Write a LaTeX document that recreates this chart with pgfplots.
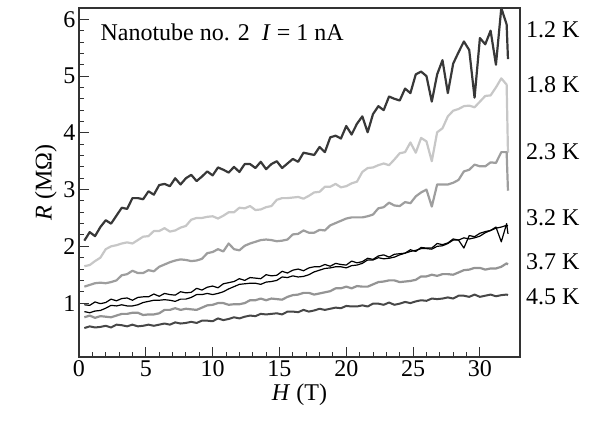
\documentclass[border=0pt]{standalone}
\usepackage{pgfplots}
\pgfplotsset{compat=1.18}
\usepackage{pgfplotstable}
\usepackage{fontspec}
\setmainfont{Liberation Serif}

% R (MOhm) vs H (T), one column per temperature; 3.2 K has two sweeps
\pgfplotstableread{
H    c12  c18  c23  c32a c32b c37  c45
0.4  2.10 1.65 1.29 0.97 0.85 0.75 0.56
0.8  2.25 1.67 1.32 0.96 0.83 0.78 0.59
1.2  2.18 1.74 1.35 1.02 0.86 0.74 0.57
1.6  2.34 1.80 1.36 0.99 0.87 0.77 0.58
2.0  2.46 1.95 1.35 1.01 0.91 0.76 0.60
2.4  2.40 2.00 1.37 1.07 0.96 0.75 0.57
2.8  2.54 2.02 1.40 1.04 0.95 0.78 0.62
3.2  2.68 2.05 1.49 1.08 0.97 0.81 0.61
3.6  2.66 2.07 1.51 1.09 0.95 0.81 0.59
4.0  2.85 2.05 1.57 1.05 0.95 0.83 0.62
4.4  2.85 2.11 1.53 1.10 0.97 0.83 0.59
4.8  2.83 2.17 1.53 1.11 1.01 0.79 0.60
5.2  2.97 2.18 1.58 1.11 1.03 0.80 0.62
5.6  2.91 2.27 1.56 1.16 1.05 0.80 0.60
6.0  3.08 2.27 1.64 1.12 1.05 0.82 0.62
6.4  3.10 2.32 1.68 1.17 1.06 0.88 0.64
6.8  3.06 2.26 1.72 1.15 1.05 0.88 0.62
7.2  3.20 2.28 1.75 1.14 1.03 0.91 0.66
7.6  3.09 2.33 1.77 1.20 1.07 0.88 0.64
8.0  3.20 2.36 1.76 1.18 1.07 0.90 0.65
8.4  3.26 2.47 1.74 1.19 1.10 0.89 0.67
8.8  3.15 2.50 1.75 1.26 1.15 0.88 0.65
9.2  3.23 2.50 1.78 1.23 1.15 0.92 0.69
9.6  3.32 2.52 1.88 1.28 1.17 0.96 0.69
10.0 3.25 2.53 1.90 1.30 1.15 0.97 0.68
10.4 3.39 2.49 1.95 1.27 1.17 1.00 0.73
10.8 3.35 2.54 1.91 1.34 1.20 1.00 0.70
11.2 3.30 2.60 2.05 1.36 1.25 0.97 0.72
11.6 3.40 2.60 1.95 1.38 1.29 0.98 0.75
12.0 3.31 2.68 1.93 1.43 1.33 0.98 0.73
12.4 3.45 2.67 2.01 1.40 1.34 1.00 0.76
12.8 3.45 2.71 2.05 1.45 1.35 1.05 0.78
13.2 3.38 2.64 2.08 1.44 1.35 1.05 0.77
13.6 3.49 2.65 2.11 1.43 1.33 1.08 0.81
14.0 3.36 2.69 2.12 1.50 1.37 1.05 0.80
14.4 3.45 2.71 2.11 1.48 1.38 1.08 0.81
14.8 3.50 2.82 2.09 1.49 1.40 1.07 0.82
15.2 3.38 2.85 2.10 1.56 1.46 1.06 0.80
15.6 3.46 2.85 2.12 1.53 1.45 1.11 0.85
16.0 3.54 2.86 2.21 1.58 1.48 1.14 0.85
16.4 3.49 2.87 2.22 1.60 1.46 1.15 0.84
16.8 3.65 2.84 2.28 1.57 1.47 1.18 0.88
17.2 3.63 2.89 2.24 1.62 1.50 1.18 0.85
17.6 3.61 2.95 2.24 1.64 1.55 1.15 0.87
18.0 3.75 2.96 2.29 1.64 1.58 1.17 0.90
18.4 3.66 3.05 2.28 1.68 1.61 1.19 0.88
18.8 3.92 3.05 2.37 1.65 1.62 1.21 0.90
19.2 3.95 3.10 2.41 1.70 1.64 1.26 0.92
19.6 3.90 3.04 2.45 1.68 1.64 1.26 0.91
20.0 4.12 3.06 2.49 1.67 1.62 1.29 0.95
20.4 3.97 3.11 2.51 1.74 1.66 1.26 0.94
20.8 4.16 3.14 2.51 1.71 1.67 1.30 0.94
21.2 4.29 3.31 2.51 1.73 1.70 1.29 0.96
21.6 4.01 3.38 2.53 1.79 1.76 1.29 0.94
22.0 4.33 3.39 2.56 1.77 1.76 1.33 0.99
22.4 4.47 3.43 2.67 1.83 1.80 1.37 0.99
22.8 4.40 3.46 2.69 1.85 1.78 1.38 0.97
23.2 4.64 3.43 2.77 1.81 1.79 1.40 1.01
23.6 4.60 3.53 2.72 1.86 1.81 1.40 0.97
24.0 4.57 3.64 2.71 1.87 1.85 1.37 0.99
24.4 4.78 3.66 2.78 1.88 1.88 1.38 1.02
24.8 4.70 3.83 2.76 1.94 1.91 1.39 1.00
25.2 5.03 3.65 2.88 1.91 1.93 1.41 1.03
25.6 5.08 3.91 2.95 1.98 1.96 1.47 1.05
26.0 5.00 3.85 3.00 1.97 1.96 1.47 1.04
26.4 4.55 3.50 2.70 1.97 1.95 1.50 1.08
26.8 5.03 4.01 3.09 2.05 2.00 1.48 1.07
27.2 5.28 4.08 3.09 2.03 2.01 1.51 1.08
27.6 4.70 4.29 3.09 2.06 2.05 1.51 1.10
28.0 5.22 4.39 3.12 2.13 2.11 1.50 1.08
28.4 5.42 4.42 3.17 2.11 2.11 1.54 1.13
28.8 5.61 4.47 3.32 1.97 2.15 1.58 1.13
29.2 5.46 4.48 3.35 2.19 2.13 1.59 1.11
29.6 4.62 4.45 3.44 2.17 2.15 1.62 1.15
30.0 5.67 4.55 3.41 2.23 2.18 1.62 1.11
30.4 5.56 4.65 3.41 2.26 2.24 1.59 1.13
30.8 5.80 4.66 3.48 2.28 2.28 1.61 1.15
31.2 5.20 4.80 3.47 2.34 2.32 1.61 1.12
31.6 6.20 4.96 3.66 2.08 2.34 1.64 1.14
32.0 5.91 4.85 3.66 2.40 2.37 1.70 1.15
32.1 5.30 3.65 2.98 2.22 2.36 1.68 1.14
}\rdata

\begin{document}
\begin{tikzpicture}
\begin{axis}[
    scale only axis, width=441bp, height=349bp,
    xmin=0, xmax=33, ymin=0.05, ymax=6.2,
    xtick={0,5,...,30}, ytick={1,...,6},
    minor x tick num=4, minor y tick num=4,
    tick align=inside, xtick pos=bottom, ytick pos=left,
    major tick length=10bp, minor tick length=5bp,
    axis line style={draw=black!80, line width=1.2bp},
    tick style={black!80, line width=1bp},
    font=\fontsize{24bp}{28bp}\selectfont,
    /pgf/number format/assume math mode=true,
    xlabel={\textit{H} (T)}, ylabel={\textit{R} (MΩ)},
    clip=false,
    every axis plot/.append style={line join=round, no markers}]
\addplot[color=black!22, line width=2.2bp] table[x=H, y=c18] {\rdata};
\addplot[color=black!38, line width=2.2bp] table[x=H, y=c23] {\rdata};
\addplot[color=black!42, line width=2.2bp] table[x=H, y=c37] {\rdata};
\addplot[color=black!72, line width=2bp] table[x=H, y=c45] {\rdata};
\addplot[color=black, line width=1.2bp] table[x=H, y=c32a] {\rdata};
\addplot[color=black, line width=1.2bp] table[x=H, y=c32b] {\rdata};
\addplot[color=black!78, line width=2.2bp] table[x=H, y=c12] {\rdata};
\node[anchor=west, inner sep=0] at (axis cs:1.6,5.77) {Nanotube no. 2\ \ \textit{I} = 1 nA};
\node[anchor=west, inner sep=0, xshift=6bp] at (axis cs:33,5.82) {1.2 K};
\node[anchor=west, inner sep=0, xshift=6bp] at (axis cs:33,4.85) {1.8 K};
\node[anchor=west, inner sep=0, xshift=6bp] at (axis cs:33,3.67) {2.3 K};
\node[anchor=west, inner sep=0, xshift=6bp] at (axis cs:33,2.51) {3.2 K};
\node[anchor=west, inner sep=0, xshift=6bp] at (axis cs:33,1.73) {3.7 K};
\node[anchor=west, inner sep=0, xshift=6bp] at (axis cs:33,1.11) {4.5 K};
\coordinate (sw) at (rel axis cs:0,0);
\end{axis}
\path (sw) ++(-79bp,-69bp) rectangle ++(597bp,426bp);
\end{tikzpicture}
\end{document}
